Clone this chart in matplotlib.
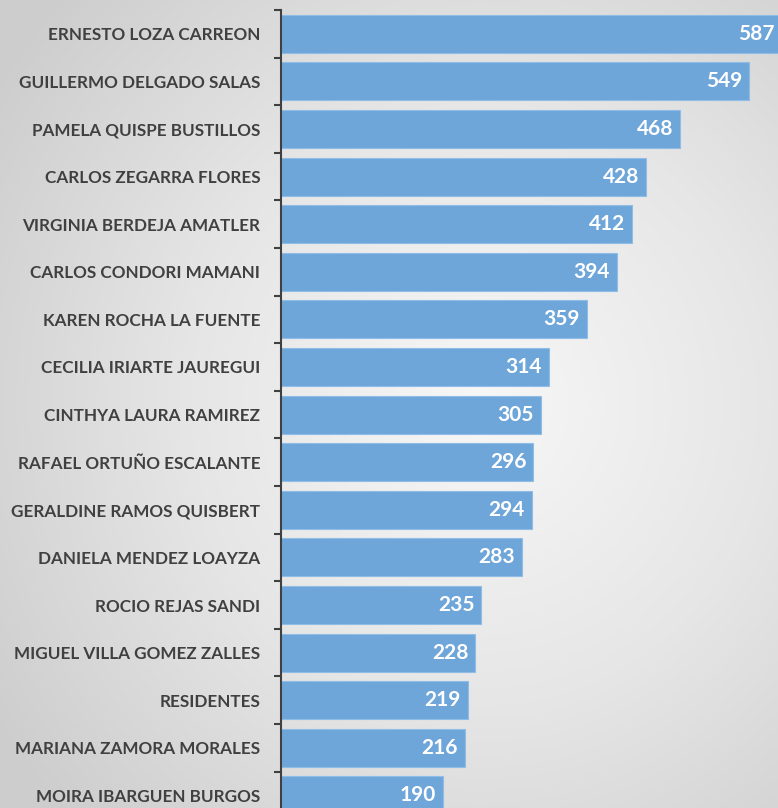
import numpy as np
import matplotlib.pyplot as plt
from matplotlib.colors import LinearSegmentedColormap

# Data
names = ['ERNESTO LOZA CARREON', 'GUILLERMO DELGADO SALAS', 'PAMELA QUISPE BUSTILLOS',
         'CARLOS ZEGARRA FLORES', 'VIRGINIA BERDEJA AMATLER', 'CARLOS CONDORI MAMANI',
         'KAREN ROCHA LA FUENTE', 'CECILIA IRIARTE JAUREGUI', 'CINTHYA LAURA RAMIREZ',
         'RAFAEL ORTUÑO ESCALANTE', 'GERALDINE RAMOS QUISBERT', 'DANIELA MENDEZ LOAYZA',
         'ROCIO REJAS SANDI', 'MIGUEL VILLA GOMEZ ZALLES', 'RESIDENTES',
         'MARIANA ZAMORA MORALES', 'MOIRA IBARGUEN BURGOS']
values = [587, 549, 468, 428, 412, 394, 359, 314, 305, 296, 294, 283, 235, 228, 219, 216, 190]

W, H = 778, 808
fig = plt.figure(figsize=(W / 100, H / 100), dpi=100)

# Background radial gradient
bg = fig.add_axes([0, 0, 1, 1])
yy, xx = np.mgrid[0:1:400j, 0:1:400j]
r = np.sqrt(((xx - 0.62) / 0.75) ** 2 + ((yy - 0.5) / 0.75) ** 2)
cmap = LinearSegmentedColormap.from_list('bg', ['#f7f7f7', '#e6e6e6', '#cdcdcd'])
bg.imshow(r, cmap=cmap, vmin=0, vmax=1.0, aspect='auto', extent=[0, 1, 0, 1], origin='lower')
bg.axis('off')

# Main axes
ax = fig.add_axes([281 / W, 0, 1 - 281 / W, (H - 10) / H])
ax.patch.set_alpha(0)

pos = np.arange(len(names))
ax.barh(pos, values, height=0.8, color='#6fa6da', edgecolor='#8fbde6', linewidth=0.8)

for p, v in zip(pos, values):
    ax.annotate(str(v), (v, p), xytext=(-5, 0), textcoords='offset points',
                ha='right', va='center', color='white', fontsize=15,
                fontweight='bold', family='Lato', annotation_clip=False)

for s in ['top', 'right', 'bottom']:
    ax.spines[s].set_visible(False)
ax.spines['left'].set_color('#404040')
ax.spines['left'].set_linewidth(1.5)

ax.set_xticks([])
ax.set_yticks(pos)
ax.set_yticklabels(names, fontsize=12.3, fontweight='bold', color='#404040', family='Lato')
ax.tick_params(axis='y', which='major', length=0, pad=15)
ax.set_yticks(np.arange(len(names) + 1) - 0.5, minor=True)
ax.tick_params(axis='y', which='minor', length=5, width=1.5, color='#404040')

# limits last so the tick setters do not widen them
scale = 0.8525  # px per unit
ax.set_xlim(0, (W - 281) / scale)
ax.set_ylim(-0.5 + (H - 10) / 47.6, -0.5)

fig.savefig('out.png', dpi=100)
